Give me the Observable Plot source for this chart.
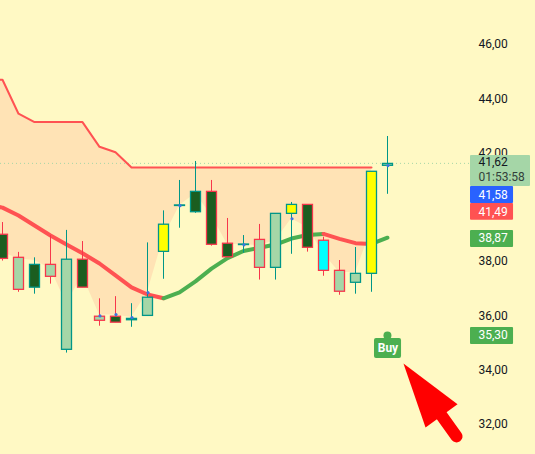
<!DOCTYPE html>
<html>
<head>
<meta charset="utf-8">
<script src="https://cdn.jsdelivr.net/npm/d3@7"></script>
<script src="https://cdn.jsdelivr.net/npm/@observablehq/plot@0.6"></script>
<style>html,body{margin:0;padding:0;background:#fff9c4;overflow:hidden}</style>
</head>
<body>
<div id="chart"></div>
<script>
const DARK = "#1b5e20", LIGHT = "#a5d6a7", YEL = "#ffff00", CYAN = "#00ffff";
const RED = "#f7364b", TEAL = "#009688";

const highs   = [39.44,38.34,38.14,38.96,39.15,38.74,36.63,36.71,36.45,38.69,39.87,40.99,41.69,40.99,39.59,38.96,39.37,39.76,40.18,40.09,38.90,38.04,38.52,41.31,42.61];
const lows    = [38.02,36.87,36.80,37.17,34.63,37.04,35.62,35.75,35.58,36.00,37.35,39.23,39.78,38.57,38.16,38.31,37.32,37.32,38.27,38.35,37.46,36.76,36.80,36.87,40.48];
const tops    = [38.99,38.14,37.88,37.88,38.07,38.07,35.97,35.97,35.89,36.67,39.36,40.07,40.57,40.57,38.66,38.63,38.80,39.76,40.09,40.09,38.77,37.66,37.55,41.31,41.60];
const bottoms = [38.10,36.96,37.04,37.44,34.75,37.04,35.82,35.75,35.84,36.00,38.36,40.05,39.82,38.62,38.16,38.61,37.77,37.77,39.76,38.51,37.66,36.89,37.22,37.55,41.53];
const fills   = [DARK,LIGHT,DARK,LIGHT,LIGHT,DARK,LIGHT,DARK,TEAL,LIGHT,YEL,TEAL,DARK,DARK,DARK,TEAL,LIGHT,LIGHT,YEL,DARK,CYAN,LIGHT,LIGHT,YEL,LIGHT];
const borders = [RED,RED,TEAL,RED,TEAL,RED,RED,RED,TEAL,TEAL,TEAL,TEAL,TEAL,RED,RED,TEAL,RED,TEAL,TEAL,RED,RED,RED,TEAL,TEAL,TEAL];

// index -1 .. 23
const upperBand = [44.70,44.70,43.45,43.14,43.14,43.14,43.14,42.23,42.03,41.47,41.47,41.47,41.47,41.47,41.47,41.47,41.47,41.47,41.47,41.47,41.47,41.47,41.47,41.47,41.47];
const bandFloor = [38.40,38.34,38.11,38.04,37.75,36.46,37.49,36.03,36.03,35.94,36.86,38.89,40.06,40.51,39.70,38.63,38.63,38.59,38.78,39.58,39.26,38.30,37.60,37.60,39.18];
// index -1 .. 24
const maLine = [40.10,39.99,39.70,39.33,38.96,38.63,38.31,37.93,37.49,37.05,36.79,36.65,36.87,37.27,37.74,38.13,38.39,38.51,38.63,38.85,38.98,39.02,38.84,38.68,38.65,38.88];
const maPieces = [[-1,10,"#ff5252"],[10,20,"#4caf50"],[20,23,"#ff5252"],[23,24,"#4caf50"]];

const dotIdx = [6,7,8,9,11,15,18,24];
const dotVal = [36.00,36.05,35.94,36.86,40.06,38.62,39.58,41.54];

const yTicks = [32,34,36,38,40,42,44,46];
const lastPrice = 41.62;

const tagX1 = 29.25, tagX2 = 31.94, tagXWide = 33, tagTextX = 29.75;
const tagTop = [41.91,40.77,40.14,39.15,35.57];
const tagBot = [40.77,40.14,39.52,38.52,34.95];
const tagFill = ["#a5d6a7","#2962ff","#ff5252","#4caf50","#4caf50"];
const tagLabel = ["41,62","41,58","41,49","38,87","35,30"];
const tagTextY = [41.66,40.45,39.83,38.87,35.30];
const tagColor = ["#131722","#ffffff","#ffffff","#ffffff","#ffffff"];
const countdown = "01:53:58";

const arrowHeadX = [25.06,28.44,26.44,25.06];
const arrowHeadY = [34.25,32.74,31.89,34.25];
const arrowShaft = {x1:27.44,y1:32.33,x2:28.38,y2:31.56};

// bars sit on an even 16px grid, with one extra pixel from bar 6 onward
const pos = i => i < 6 ? i : i + 0.0625;
const candles = highs.map((h,k)=>({i:pos(k),h,l:lows[k],t:tops[k],b:bottoms[k],f:fills[k],s:borders[k]}));
const band = upperBand.map((u,k)=>({i:pos(k-1),u,f:bandFloor[k]}));
const ma = maLine.map((v,k)=>({k:k-1,i:pos(k-1),v}));
const dots = dotIdx.map((i,k)=>({i:pos(i),v:dotVal[k]}));
const tags = tagLabel.map((label,k)=>({label,t:tagTop[k],b:tagBot[k],f:tagFill[k],y:tagTextY[k],c:tagColor[k],wide:k===0}));
const fmt = d3.format(".2f");

const chart = Plot.plot({
  width:535, height:454,
  marginLeft:0, marginRight:57, marginTop:0, marginBottom:0,
  style:{background:"#fff9c4",fontFamily:"Roboto, sans-serif",fontSize:"12px",display:"block"},
  x:{domain:[-0.125,29.75],axis:null},
  y:{domain:[30.893,47.621],axis:null},
  color:{type:"identity"},
  marks:[
    Plot.areaY(band,{x:"i",y1:"f",y2:"u",fill:"#ffe3b5"}),
    Plot.ruleY([lastPrice],{stroke:"#a5d6a7",strokeDasharray:"1,3",strokeWidth:1}),
    Plot.line(band,{x:"i",y:"u",stroke:"#ff5252",strokeWidth:2,curve:"linear"}),
    ...maPieces.map(([a,b,c])=>Plot.line(ma.filter(d=>d.k>=a&&d.k<=b),{x:"i",y:"v",stroke:c,strokeWidth:4,curve:"linear"})),
    Plot.ruleX(candles,{x:"i",y1:"l",y2:"h",stroke:"s",strokeWidth:1}),
    Plot.rect(candles,{x1:d=>d.i-0.28125,x2:d=>d.i+0.34375,y1:"b",y2:"t",fill:"f",stroke:"s",strokeWidth:1.3}),
    Plot.dot(dots,{x:"i",y:"v",r:1.6,dx:0.5,fill:"#3f74e0"}),
    Plot.axisY(yTicks,{anchor:"right",tickSize:0,tickPadding:0,label:null,fill:"#131722",tickFormat:d=>fmt(d).replace(".",","),fontSize:12}),
    Plot.rect(tags,{x1:tagX1,x2:d=>d.wide?tagXWide:tagX2,y1:"b",y2:"t",fill:"f",rx:1}),
    Plot.text(tags,{x:tagTextX,y:"y",text:"label",fill:"c",textAnchor:"start",fontSize:12}),
    Plot.text([countdown],{x:tagTextX,y:[41.10],text:d=>d,fill:"#33413a",textAnchor:"start",fontSize:12}),
    Plot.dot([{x:24.06,y:35.28}],{x:"x",y:"y",r:4,fill:"#4caf50"}),
    Plot.rect([{x1:23.25,x2:24.94,y1:34.43,y2:35.17}],{x1:"x1",x2:"x2",y1:"y1",y2:"y2",fill:"#4caf50",rx:2}),
    Plot.text(["Buy"],{x:[24.09],y:[34.80],text:d=>d,fill:"#ffffff",fontSize:12,fontWeight:700}),
    Plot.line(arrowHeadX.map((x,k)=>({x,y:arrowHeadY[k]})),{x:"x",y:"y",fill:"#ff0000",stroke:"none"}),
    Plot.link([arrowShaft],{x1:"x1",y1:"y1",x2:"x2",y2:"y2",stroke:"#ff0000",strokeWidth:12,strokeLinecap:"round"})
  ]
});
document.getElementById("chart").appendChild(chart);
</script>
</body>
</html>
